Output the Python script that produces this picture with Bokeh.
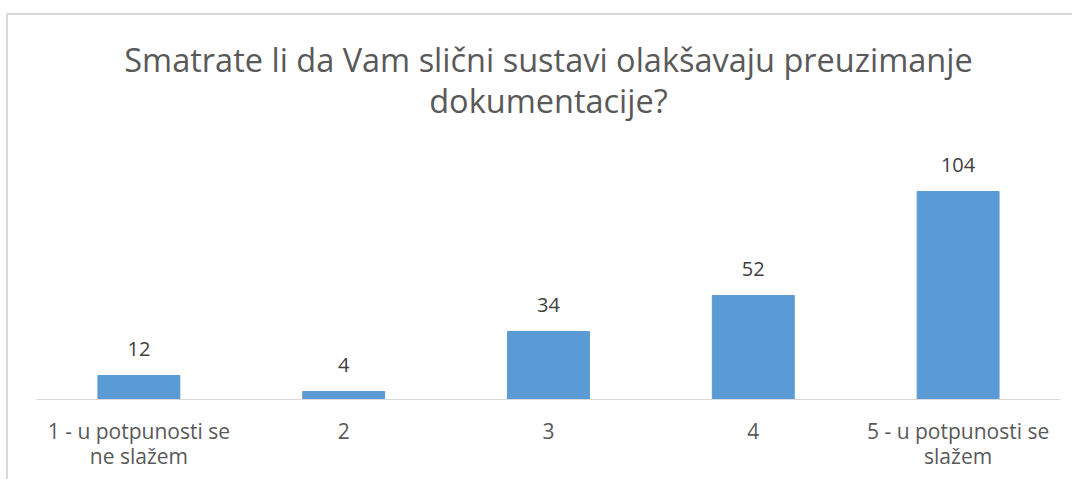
from bokeh.plotting import figure
from bokeh.models import ColumnDataSource, LabelSet, Label
from bokeh.core.properties import value
from bokeh.embed import file_html
from bokeh.resources import INLINE

categories = ["1 - u potpunosti se\nne slažem", "2", "3", "4", "5 - u potpunosti se\nslažem"]
counts = [12, 4, 34, 52, 104]
title_lines = ["Smatrate li da Vam slični sustavi olakšavaju preuzimanje", "dokumentacije?"]

FONT = "Open Sans"

src = ColumnDataSource(dict(cat=categories, val=counts, txt=[str(v) for v in counts]))

# frame spans from the top of the chart down to the category axis; the title sits inside it
p = figure(x_range=categories, y_range=(0, 192), width=1066, height=466,
           output_backend="svg", toolbar_location=None,
           min_border_left=28, min_border_right=14, min_border_top=0, min_border_bottom=82)
p.styles = {"position": "relative", "top": "13px", "left": "6px",
            "border-top": "2px solid #d9d9d9", "border-left": "2px solid #d9d9d9"}
p.outline_line_color = None
p.background_fill_color = "white"
p.border_fill_color = "white"
p.xgrid.grid_line_color = None
p.ygrid.grid_line_color = None
p.yaxis.visible = False

p.add_layout(Label(x=2.5, y=170, text=title_lines[0], text_align="center",
                   text_baseline="alphabetic", text_font=FONT,
                   text_font_size="32.5px", text_color="#595959"))
p.add_layout(Label(x=2.5, y=149.5, text=title_lines[1], text_align="center",
                   text_baseline="alphabetic", text_font=FONT,
                   text_font_size="32.5px", text_color="#595959"))

p.vbar(x="cat", top="val", width=0.4, source=src, color="#5b9bd5")

p.xaxis.axis_line_color = "#d9d9d9"
p.xaxis.axis_line_width = 1
p.xaxis.major_tick_line_color = None
p.xaxis.minor_tick_line_color = None
p.xaxis.major_label_text_font = FONT
p.xaxis.major_label_text_font_size = "21px"
p.xaxis.major_label_text_color = "#595959"
p.xaxis.major_label_text_line_height = 0.9
p.xaxis.major_label_standoff = 11

labels = LabelSet(x="cat", y="val", text="txt", source=src, y_offset=20,
                  text_align="center", text_baseline="alphabetic",
                  text_font=value(FONT), text_font_size="20px", text_color="#404040")
p.add_layout(labels)

open("out.html", "w").write(file_html(p, INLINE))
